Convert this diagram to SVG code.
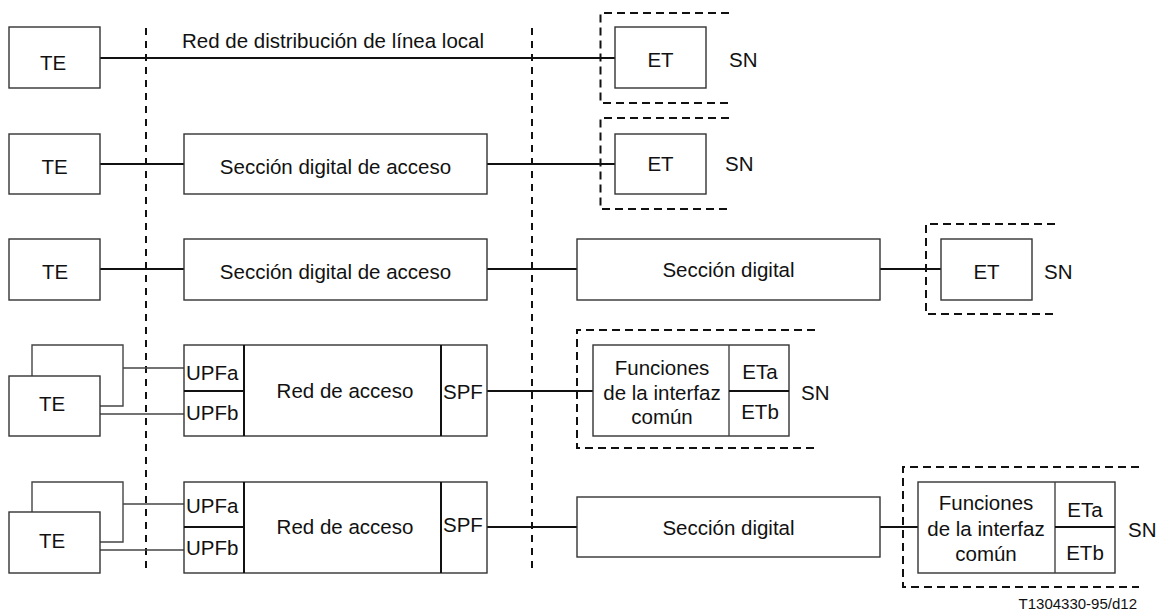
<svg xmlns="http://www.w3.org/2000/svg" width="1162" height="612" viewBox="0 0 1162 612">
<style>
text{font-family:"Liberation Sans",Arial,sans-serif;font-size:20.5px;fill:#111;}
.c{text-anchor:middle;}
.box{fill:#fff;stroke:#333;stroke-width:1.4;}
.div{stroke:#111;stroke-width:2;fill:none;}
.conn{stroke:#111;stroke-width:2;fill:none;}
.thin{stroke:#444;stroke-width:1.4;fill:none;}
.vdash{stroke:#111;stroke-width:2;stroke-dasharray:7,6;fill:none;}
.gdash{stroke:#111;stroke-width:2;stroke-dasharray:8,5;fill:none;}
.small{font-size:15px;}
</style>
<rect width="1162" height="612" fill="#fff"/>

<g id="boundaries">
<line class="vdash" x1="146" y1="28" x2="146" y2="573"/>
<line class="vdash" x1="532" y1="28" x2="532" y2="573"/>
</g>

<g id="connectors">
<line class="conn" x1="100" y1="58" x2="615" y2="58"/>
<line class="conn" x1="100" y1="164" x2="184" y2="164"/>
<line class="conn" x1="487" y1="164" x2="615" y2="164"/>
<line class="conn" x1="100" y1="269" x2="184" y2="269"/>
<line class="conn" x1="487" y1="269" x2="577" y2="269"/>
<line class="conn" x1="880" y1="269" x2="941" y2="269"/>
<line class="thin" x1="123" y1="368" x2="184" y2="368"/>
<line class="thin" x1="100" y1="414" x2="184" y2="414"/>
<line class="conn" x1="487" y1="391" x2="593" y2="391"/>
<line class="thin" x1="123" y1="504" x2="184" y2="504"/>
<line class="thin" x1="100" y1="550" x2="184" y2="550"/>
<line class="conn" x1="487" y1="527" x2="577" y2="527"/>
<line class="conn" x1="880" y1="527" x2="918" y2="527"/>
</g>

<text class="c" x="333" y="48">Red de distribución de línea local</text>

<g id="row1">
<g id="te1"><rect class="box" x="9" y="27" width="91" height="61"/><text class="c" x="53" y="70">TE</text></g>
<g id="sn1"><path class="gdash" d="M729,13 H600.5 V103 H729"/>
<rect class="box" x="615" y="27" width="91" height="61"/><text class="c" x="660.5" y="67">ET</text>
<text x="729" y="67">SN</text></g>
</g>

<g id="row2">
<g id="te2"><rect class="box" x="9" y="134" width="91" height="60"/><text class="c" x="54.5" y="174">TE</text></g>
<g id="sda2"><rect class="box" x="184" y="134" width="303" height="60"/><text class="c" x="335.5" y="174">Sección digital de acceso</text></g>
<g id="sn2"><path class="gdash" d="M729,118 H600.5 V209 H729"/>
<rect class="box" x="615" y="134" width="91" height="60"/><text class="c" x="660.5" y="171">ET</text>
<text x="725" y="171">SN</text></g>
</g>

<g id="row3">
<g id="te3"><rect class="box" x="9" y="239" width="91" height="61"/><text class="c" x="55" y="279">TE</text></g>
<g id="sda3"><rect class="box" x="184" y="239" width="303" height="61"/><text class="c" x="335.5" y="279">Sección digital de acceso</text></g>
<g id="sd3"><rect class="box" x="577" y="239" width="303" height="61"/><text class="c" x="728.5" y="277">Sección digital</text></g>
<g id="sn3"><path class="gdash" d="M1055,224 H926 V314 H1055"/>
<rect class="box" x="941" y="239" width="91" height="61"/><text class="c" x="986.5" y="279">ET</text>
<text x="1044" y="279">SN</text></g>
</g>

<g id="row4">
<g id="te4"><path class="thin" d="M32,376 V345 H123 V406 H100"/>
<rect class="box" x="9" y="376" width="91" height="60"/><text class="c" x="52" y="411">TE</text></g>
<g id="an4"><rect class="box" x="184" y="345" width="303" height="91"/>
<line class="div" x1="244" y1="345" x2="244" y2="436"/>
<line class="div" x1="441" y1="345" x2="441" y2="436"/>
<line class="div" x1="184" y1="391" x2="244" y2="391"/>
<text x="186" y="380">UPFa</text><text x="186" y="420">UPFb</text>
<text class="c" x="345" y="398">Red de acceso</text>
<text x="443" y="399">SPF</text></g>
<g id="sn4"><path class="gdash" d="M815,330 H577 V448 H815"/>
<rect class="box" x="593" y="345" width="196" height="91"/>
<line class="thin" x1="729" y1="345" x2="729" y2="436"/>
<line class="conn" x1="729" y1="391" x2="789" y2="391"/>
<text class="c" x="662" y="375">Funciones</text>
<text class="c" x="662" y="400">de la interfaz</text>
<text class="c" x="662" y="424">común</text>
<text class="c" x="760" y="379">ETa</text><text class="c" x="760" y="419">ETb</text>
<text x="801" y="400">SN</text></g>
</g>

<g id="row5">
<g id="te5"><path class="thin" d="M32,512 V482 H123 V542 H100"/>
<rect class="box" x="9" y="512" width="91" height="61"/><text class="c" x="52" y="548">TE</text></g>
<g id="an5"><rect class="box" x="184" y="482" width="303" height="91"/>
<line class="div" x1="244" y1="482" x2="244" y2="573"/>
<line class="div" x1="441" y1="482" x2="441" y2="573"/>
<line class="div" x1="184" y1="527" x2="244" y2="527"/>
<text x="186" y="513">UPFa</text><text x="186" y="555">UPFb</text>
<text class="c" x="345" y="534">Red de acceso</text>
<text x="443" y="532">SPF</text></g>
<g id="sd5"><rect class="box" x="577" y="497" width="303" height="60"/><text class="c" x="728.5" y="535">Sección digital</text></g>
<g id="sn5"><path class="gdash" d="M1139,467 H903 V587 H1139"/>
<rect class="box" x="918" y="482" width="197" height="91"/>
<line class="thin" x1="1055" y1="482" x2="1055" y2="573"/>
<line class="conn" x1="1055" y1="527" x2="1115" y2="527"/>
<text class="c" x="986" y="510">Funciones</text>
<text class="c" x="986" y="536">de la interfaz</text>
<text class="c" x="986" y="561">común</text>
<text class="c" x="1085" y="517">ETa</text><text class="c" x="1085" y="560">ETb</text>
<text x="1128" y="537">SN</text></g>
</g>

<text class="small" x="1137" y="609" text-anchor="end">T1304330-95/d12</text>
</svg>
